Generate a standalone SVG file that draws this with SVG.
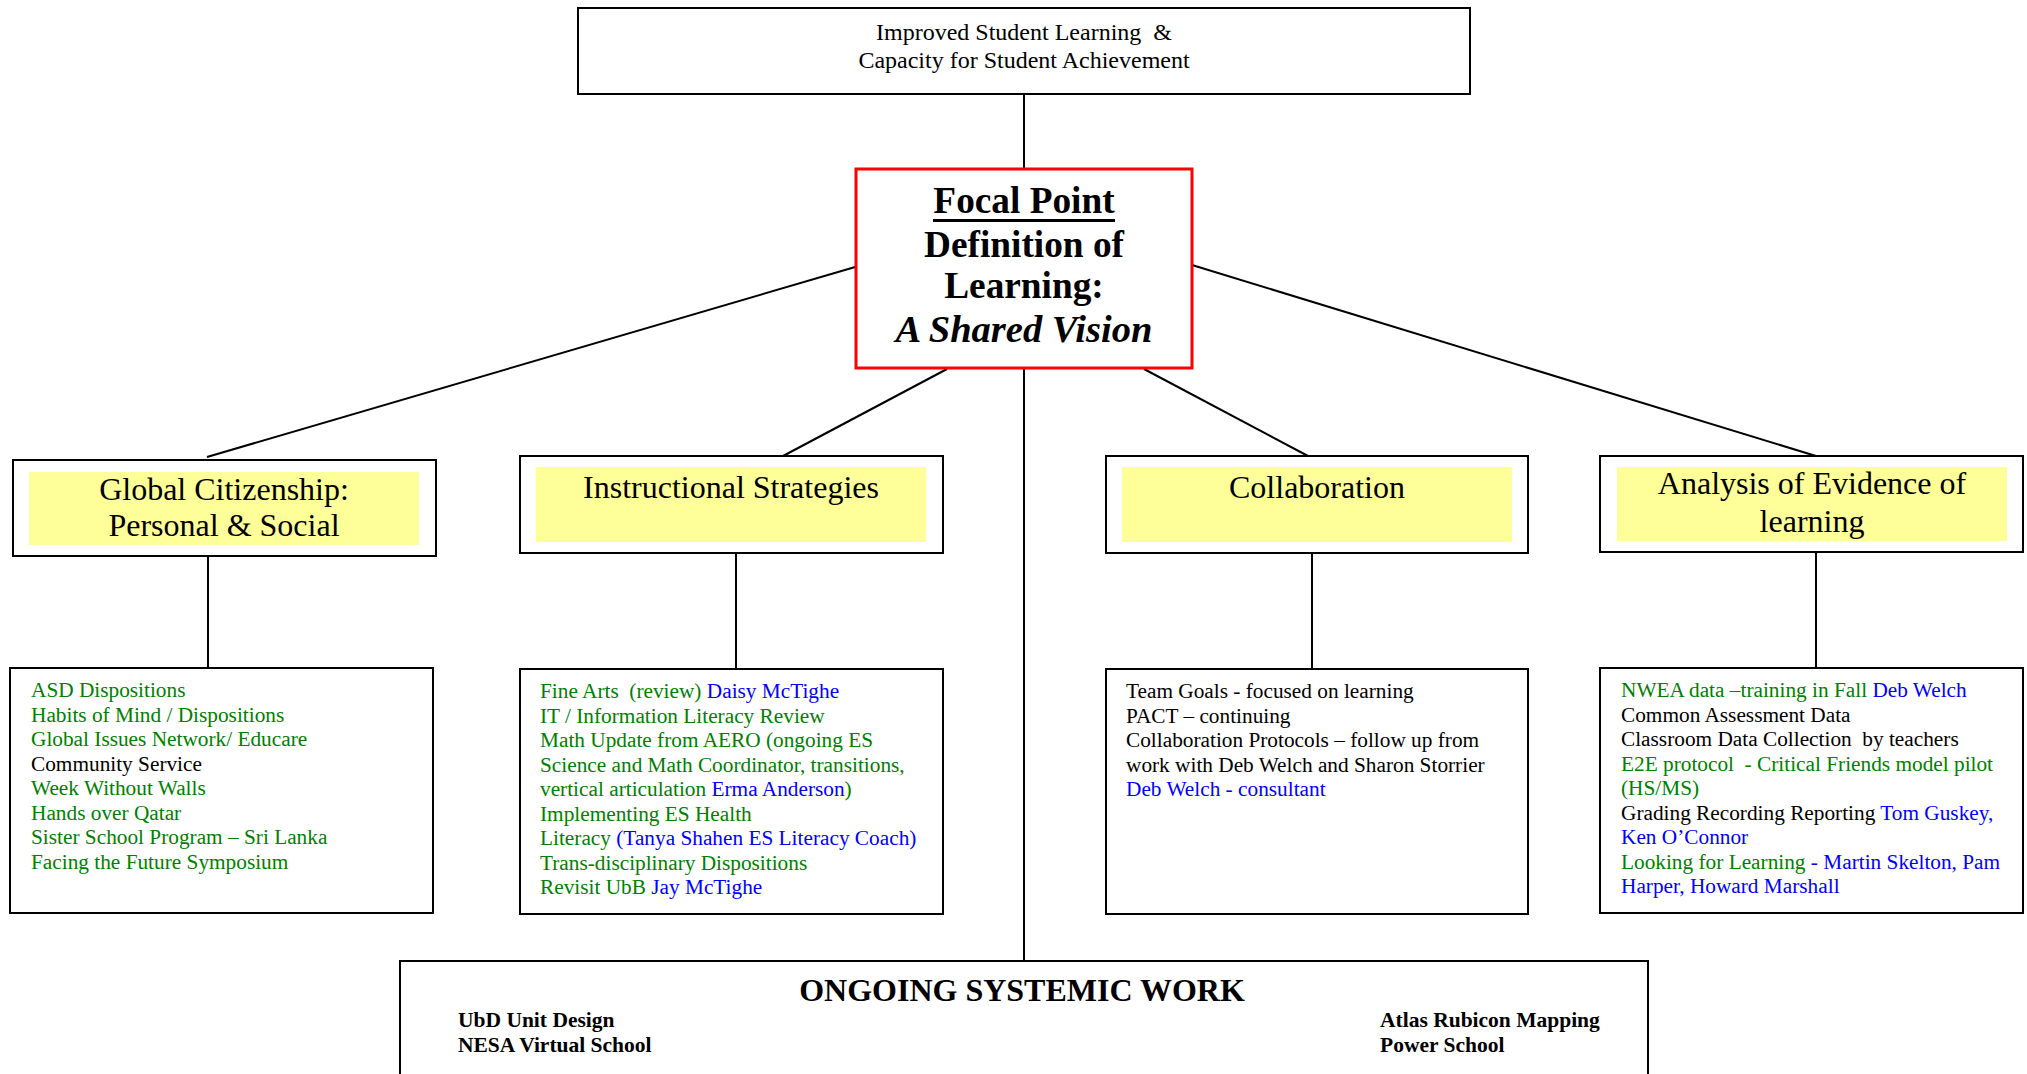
<svg xmlns="http://www.w3.org/2000/svg" width="2027" height="1074" viewBox="0 0 2027 1074">
<style>
text{font-family:"Liberation Serif","Times New Roman",serif;white-space:pre}
.box{fill:#fff;stroke:#000;stroke-width:2}
.hl{fill:#ffff99}
.hd{font-size:32px;text-anchor:middle;fill:#000}
.dt{font-size:21.3px;fill:#000}
.g{fill:#008000}
.b{fill:#0000ff}
.k{fill:#000}
.bold{font-weight:bold}
#connectors line{stroke:#000;stroke-width:2}
</style>
<rect width="2027" height="1074" fill="#fff"/>
<g id="connectors">
<line x1="1024" y1="93" x2="1024" y2="169"/>
<line x1="862" y1="265" x2="207" y2="457"/>
<line x1="947" y1="369" x2="783" y2="456"/>
<line x1="1144" y1="369" x2="1308" y2="456"/>
<line x1="1192" y1="265" x2="1816" y2="456"/>
<line x1="208" y1="556" x2="208" y2="668"/>
<line x1="736" y1="553" x2="736" y2="669"/>
<line x1="1312" y1="553" x2="1312" y2="669"/>
<line x1="1816" y1="552" x2="1816" y2="668"/>
<line x1="1024" y1="369" x2="1024" y2="961"/>
<line x1="1024" y1="355" x2="1024" y2="359" style="stroke-width:1.5"/>
</g>
<g id="top">
<rect class="box" x="578" y="8" width="892" height="86"/>
<text x="1024" y="40" font-size="24" text-anchor="middle">Improved Student Learning  &amp;</text>
<text x="1024" y="68" font-size="24" text-anchor="middle">Capacity for Student Achievement</text>
</g>
<g id="focal">
<rect x="856" y="169" width="336" height="199" fill="#fff" stroke="#ff0000" stroke-width="3"/>
<text x="1024" y="213" font-size="37.3" font-weight="bold" text-anchor="middle">Focal Point</text>
<rect x="933" y="219" width="182" height="3" fill="#000"/>
<text x="1024" y="257" font-size="37.3" font-weight="bold" text-anchor="middle">Definition of</text>
<text x="1024" y="298" font-size="37.3" font-weight="bold" text-anchor="middle">Learning:</text>
<text x="1024" y="342" font-size="38.5" font-weight="bold" font-style="italic" text-anchor="middle">A Shared Vision</text>
</g>
<g id="global">
<rect class="box" x="13" y="460" width="423" height="96"/>
<rect class="hl" x="29" y="472" width="390" height="73"/>
<text class="hd" x="224" y="500">Global Citizenship:</text>
<text class="hd" x="224" y="536">Personal &amp; Social</text>
</g>
<g id="global-items">
<rect class="box" x="10" y="668" width="423" height="245"/>
<text class="dt g" x="31" y="697">ASD Dispositions</text>
<text class="dt g" x="31" y="721.5">Habits of Mind / Dispositions</text>
<text class="dt g" x="31" y="746">Global Issues Network/ Educare</text>
<text class="dt k" x="31" y="770.5">Community Service</text>
<text class="dt g" x="31" y="795">Week Without Walls</text>
<text class="dt g" x="31" y="819.5">Hands over Qatar</text>
<text class="dt g" x="31" y="844">Sister School Program – Sri Lanka</text>
<text class="dt g" x="31" y="868.5">Facing the Future Symposium</text>
</g>
<g id="instructional">
<rect class="box" x="520" y="456" width="423" height="97"/>
<rect class="hl" x="536" y="467" width="390" height="75"/>
<text class="hd" x="731" y="498">Instructional Strategies</text>
</g>
<g id="instructional-items">
<rect class="box" x="520" y="669" width="423" height="245"/>
<text class="dt" x="540" y="698"><tspan class="g">Fine Arts  (review) </tspan><tspan class="b">Daisy McTighe</tspan></text>
<text class="dt g" x="540" y="722.5">IT / Information Literacy Review</text>
<text class="dt g" x="540" y="747">Math Update from AERO (ongoing ES</text>
<text class="dt g" x="540" y="771.5">Science and Math Coordinator, transitions,</text>
<text class="dt" x="540" y="796"><tspan class="g">vertical articulation </tspan><tspan class="b">Erma Anderson</tspan><tspan class="g">)</tspan></text>
<text class="dt g" x="540" y="820.5">Implementing ES Health</text>
<text class="dt" x="540" y="845"><tspan class="g">Literacy </tspan><tspan class="b">(Tanya Shahen ES Literacy Coach)</tspan></text>
<text class="dt g" x="540" y="869.5">Trans-disciplinary Dispositions</text>
<text class="dt" x="540" y="894"><tspan class="g">Revisit UbB </tspan><tspan class="b">Jay McTighe</tspan></text>
</g>
<g id="collaboration">
<rect class="box" x="1106" y="456" width="422" height="97"/>
<rect class="hl" x="1122" y="467" width="390" height="75"/>
<text class="hd" x="1317" y="498">Collaboration</text>
</g>
<g id="collaboration-items">
<rect class="box" x="1106" y="669" width="422" height="245"/>
<text class="dt k" x="1126" y="698">Team Goals - focused on learning</text>
<text class="dt k" x="1126" y="722.5">PACT – continuing</text>
<text class="dt k" x="1126" y="747">Collaboration Protocols – follow up from</text>
<text class="dt k" x="1126" y="771.5">work with Deb Welch and Sharon Storrier</text>
<text class="dt b" x="1126" y="796">Deb Welch - consultant</text>
</g>
<g id="analysis">
<rect class="box" x="1600" y="456" width="423" height="96"/>
<rect class="hl" x="1617" y="467" width="390" height="74"/>
<text class="hd" x="1812" y="494">Analysis of Evidence of</text>
<text class="hd" x="1812" y="532">learning</text>
</g>
<g id="analysis-items">
<rect class="box" x="1600" y="668" width="423" height="245"/>
<text class="dt" x="1621" y="697"><tspan class="g">NWEA data –training in Fall </tspan><tspan class="b">Deb Welch</tspan></text>
<text class="dt k" x="1621" y="721.5">Common Assessment Data</text>
<text class="dt k" x="1621" y="746">Classroom Data Collection  by teachers</text>
<text class="dt g" x="1621" y="770.5">E2E protocol  - Critical Friends model pilot</text>
<text class="dt g" x="1621" y="795">(HS/MS)</text>
<text class="dt" x="1621" y="819.5"><tspan class="k">Grading Recording Reporting </tspan><tspan class="b">Tom Guskey,</tspan></text>
<text class="dt b" x="1621" y="844">Ken O’Connor</text>
<text class="dt" x="1621" y="868.5"><tspan class="g">Looking for Learning </tspan><tspan class="b">- Martin Skelton, Pam</tspan></text>
<text class="dt b" x="1621" y="893">Harper, Howard Marshall</text>
</g>
<g id="ongoing">
<rect class="box" x="400" y="961" width="1248" height="200"/>
<text x="1022" y="1001" font-size="32" font-weight="bold" text-anchor="middle">ONGOING SYSTEMIC WORK</text>
<text class="bold" x="458" y="1027" font-size="21.5">UbD Unit Design</text>
<text class="bold" x="458" y="1052" font-size="21.5">NESA Virtual School</text>
<text class="bold" x="1380" y="1027" font-size="21.5">Atlas Rubicon Mapping</text>
<text class="bold" x="1380" y="1052" font-size="21.5">Power School</text>
</g>
</svg>
